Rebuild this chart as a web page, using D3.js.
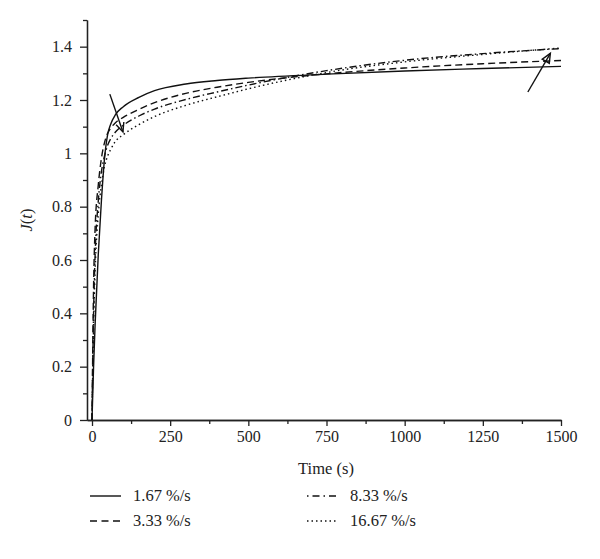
<!DOCTYPE html>
<html>
<head>
<meta charset="utf-8">
<script src="https://cdn.jsdelivr.net/npm/d3@7"></script>
<style>
  body { margin: 0; background: #fff; }
  svg { display: block; }
  text { font-family: "Liberation Serif", "Times New Roman", serif; fill: #222; }
</style>
</head>
<body>
<svg id="chart" width="600" height="559"></svg>
<script>
// ---- data ----
const times = [0, 5, 10, 20, 30, 40, 50, 60, 75, 100, 150, 200, 300, 400, 500, 750, 1000, 1250, 1500];
const seriesNames = ["1.67 %/s", "3.33 %/s", "8.33 %/s", "16.67 %/s"];
const j167 = [0, 0.2, 0.36, 0.62, 0.82, 0.98, 1.07, 1.11, 1.145, 1.175, 1.21, 1.235, 1.26, 1.273, 1.282, 1.297, 1.309, 1.318, 1.326];
const j333 = [0, 0.5, 0.72, 0.88, 0.98, 1.04, 1.075, 1.095, 1.115, 1.135, 1.165, 1.19, 1.225, 1.248, 1.266, 1.298, 1.32, 1.336, 1.348];
const j833 = [0, 0.4, 0.62, 0.82, 0.93, 0.99, 1.03, 1.055, 1.08, 1.105, 1.14, 1.166, 1.202, 1.23, 1.256, 1.31, 1.349, 1.374, 1.393];
const j1667 = [0, 0.35, 0.56, 0.77, 0.88, 0.95, 0.99, 1.015, 1.045, 1.07, 1.108, 1.138, 1.18, 1.212, 1.242, 1.303, 1.343, 1.371, 1.395];
const xTicks = [0, 250, 500, 750, 1000, 1250, 1500];
const xMinorTicks = [125, 375, 625, 875, 1125, 1375];
const yTicks = [0, 0.2, 0.4, 0.6, 0.8, 1, 1.2, 1.4];
const yMinorTicks = [0.1, 0.3, 0.5, 0.7, 0.9, 1.1, 1.3, 1.5];
// annotation arrows (data units): [t0, J0, t1, J1]
const arrowDown = [57, 1.222, 99, 1.08];
const arrowUp = [1394, 1.23, 1466, 1.375];

const series = [j167, j333, j833, j1667];
const dashes = [null, "7,4", "7,3,1.5,3", "1.5,3"];
const legendDashes = [null, "7,4.5", "1.5,4,7,4", "1.5,3"];

const svg = d3.select("#chart");
const x = d3.scaleLinear().domain([-16, 1500]).range([87, 561]);
const y = d3.scaleLinear().domain([0, 1.5]).range([420, 20]);

// axes
const xAxis = d3.axisBottom(x).tickValues(xTicks).tickSize(6).tickSizeOuter(0).tickPadding(5).tickFormat(d3.format("d"));
const xMinor = d3.axisBottom(x).tickValues(xMinorTicks).tickSize(4).tickSizeOuter(0).tickFormat("");
const yAxis = d3.axisLeft(y).tickValues(yTicks).tickSize(7).tickSizeOuter(0).tickPadding(8).tickFormat(d => d3.format("")(+d.toFixed(1)));
const yMinor = d3.axisLeft(y).tickValues(yMinorTicks).tickSize(4).tickSizeOuter(0).tickFormat("");

function style(g) {
  g.selectAll("path").attr("stroke", "#222").attr("stroke-width", 1.3);
  g.selectAll("line").attr("stroke", "#222").attr("stroke-width", 1.3);
  g.selectAll("text").style("font-size", "16px").attr("fill", "#222");
}
svg.append("g").attr("transform", "translate(0,420)").call(xMinor).call(style);
svg.append("g").attr("transform", "translate(0,420)").call(xAxis).call(style);
svg.append("g").attr("transform", "translate(87,0)").call(yMinor).call(style);
svg.append("g").attr("transform", "translate(87,0)").call(yAxis).call(style);

// axis titles
svg.append("text").attr("x", 326).attr("y", 474).attr("text-anchor", "middle")
  .style("font-size", "16.5px").text("Time (s)");
const yl = svg.append("text").attr("transform", "translate(32,220) rotate(-90)")
  .attr("text-anchor", "middle").style("font-size", "16.5px");
yl.append("tspan").style("font-style", "italic").text("J");
yl.append("tspan").text("(");
yl.append("tspan").style("font-style", "italic").text("t");
yl.append("tspan").text(")");

// curves
const line = d3.line().x(d => x(d[0])).y(d => y(d[1])).curve(d3.curveMonotoneX);
series.forEach((vals, i) => {
  const pts = times.map((t, k) => [t, vals[k]]);
  svg.append("path").attr("d", line(pts)).attr("fill", "none")
    .attr("stroke", "#111").attr("stroke-width", 1.4)
    .attr("stroke-dasharray", dashes[i]);
});

// arrows
function arrow(a, head) {
  const x0 = x(a[0]), y0 = y(a[1]), x1 = x(a[2]), y1 = y(a[3]);
  svg.append("line").attr("x1", x0).attr("y1", y0).attr("x2", x1).attr("y2", y1)
    .attr("stroke", "#111").attr("stroke-width", 1.4);
  const ang = Math.atan2(y1 - y0, x1 - x0);
  const L = 10, w = 0.42;
  const p1 = [x1 - L * Math.cos(ang - w), y1 - L * Math.sin(ang - w)];
  const p2 = [x1 - L * Math.cos(ang + w), y1 - L * Math.sin(ang + w)];
  const d = head === "tri"
    ? `M${p1}L${x1},${y1}L${p2}Z`
    : `M${p1}L${x1},${y1}L${p2}`;
  svg.append("path").attr("d", d).attr("fill", "none").attr("stroke", "#111").attr("stroke-width", 1.4);
}
arrow(arrowDown, "v");
arrow(arrowUp, "tri");

// legend
const legX = [90, 307], legY = [501, 526];
seriesNames.forEach((name, i) => {
  const col = i < 2 ? 0 : 1, row = i % 2;
  const lx = legX[col], ly = legY[row];
  svg.append("line").attr("x1", lx).attr("x2", lx + 31).attr("y1", ly - 5).attr("y2", ly - 5)
    .attr("stroke", "#111").attr("stroke-width", 1.4).attr("stroke-dasharray", legendDashes[i]);
  svg.append("text").attr("x", lx + 43).attr("y", ly).style("font-size", "16.5px").text(name);
});
</script>
</body>
</html>
